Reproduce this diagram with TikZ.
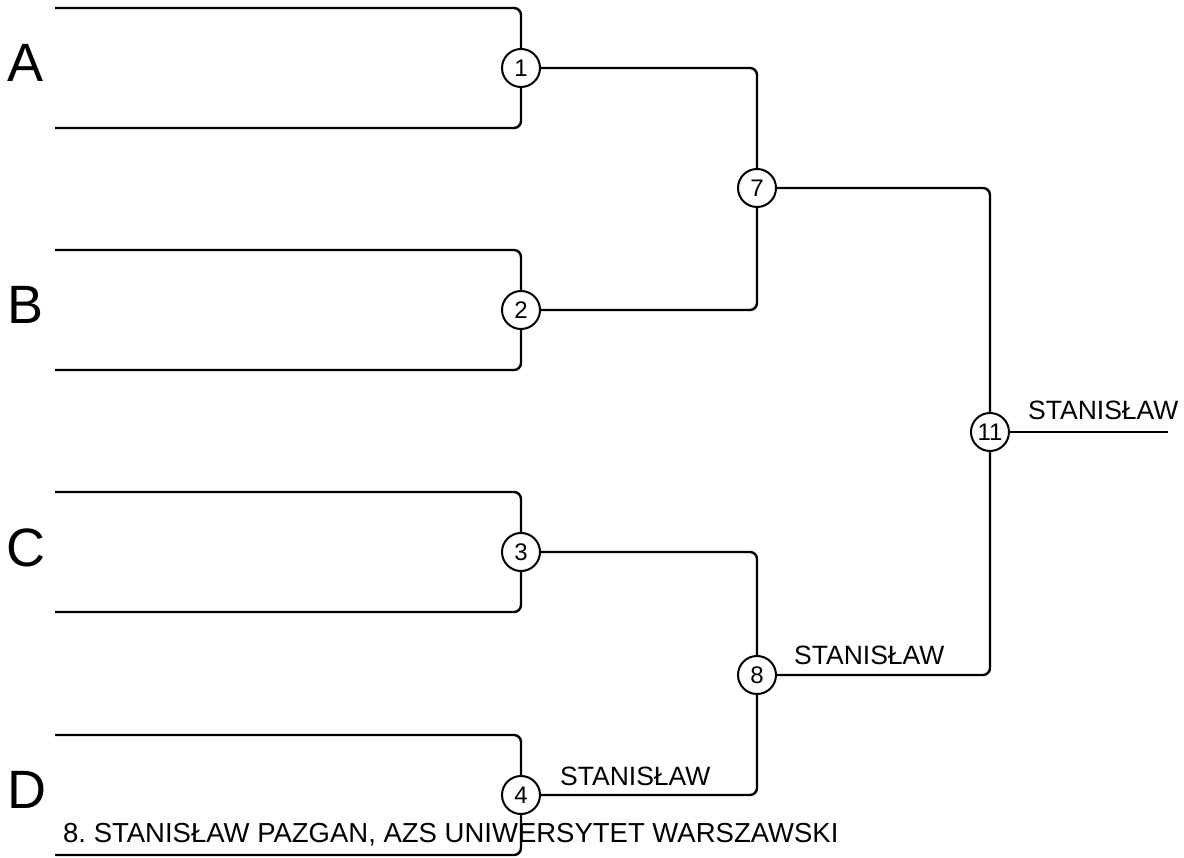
\documentclass[tikz,border=0pt]{standalone}
\usepackage{fontspec}
\setmainfont{Liberation Sans}
\frenchspacing
\begin{document}
\begin{tikzpicture}[x=1pt,y=-1pt,
  line width=2.4pt,
  seed/.style={draw,circle,line width=2pt,minimum size=38pt,inner sep=0pt,fill=white,font=\fontsize{24}{24}\selectfont},
  bline/.style={rounded corners=7pt},
  letter/.style={anchor=base,font=\fontsize{54}{54}\selectfont,inner sep=0pt},
  lab/.style={anchor=base west,font=\fontsize{26.5}{26.5}\selectfont,inner sep=0pt},
  footer/.style={anchor=base west,font=\fontsize{27.5}{27.5}\selectfont,inner sep=0pt}]
\useasboundingbox (0,0) rectangle (1184,858);
% match circles
\node[seed] (c1) at (521,68) {1};
\node[seed] (c2) at (521,310) {2};
\node[seed] (c3) at (521,552) {3};
\node[seed] (c4) at (521,795) {4};
\node[seed] (c7) at (757,188) {7};
\node[seed] (c8) at (757,675) {8};
\node[seed] (c11) at (990,432) {11};
% bracket ends
\coordinate (a1) at (55,8);   \coordinate (a2) at (55,128);
\coordinate (b1) at (55,250); \coordinate (b2) at (55,370);
\coordinate (d1) at (55,492); \coordinate (d2) at (55,612);
\coordinate (e1) at (55,735); \coordinate (e2) at (55,855);
\coordinate (out) at (1168,432);
% brackets
\draw[bline] (a1) -| (c1.north);
\draw[bline] (a2) -| (c1.south);
\draw[bline] (b1) -| (c2.north);
\draw[bline] (b2) -| (c2.south);
\draw[bline] (d1) -| (c3.north);
\draw[bline] (d2) -| (c3.south);
\draw[bline] (e1) -| (c4.north);
\draw[bline] (e2) -| (c4.south);
\draw[bline] (c1.east) -| (c7.north);
\draw[bline] (c2.east) -| (c7.south);
\draw[bline] (c3.east) -| (c8.north);
\draw[bline] (c4.east) -| (c8.south);
\draw[bline] (c7.east) -| (c11.north);
\draw[bline] (c8.east) -| (c11.south);
\draw (c11.east) -- (out);
% letters
\node[letter] (LA) at (26,82) {A};
\node[letter] (LB) at (26,324) {B};
\node[letter] (LC) at (26,566) {C};
\node[letter] (LD) at (27,808) {D};
% labels
\node[lab] (l4) at (559,785) {STANISŁAW};
\node[lab] (l8) at (793,664) {STANISŁAW};
\node[lab] (l11) at (1027,420) {STANISŁAW};
\node[footer] (bottom) at (62,842) {8. STANISŁAW PAZGAN, AZS UNIWERSYTET WARSZAWSKI};
\end{tikzpicture}
\end{document}
